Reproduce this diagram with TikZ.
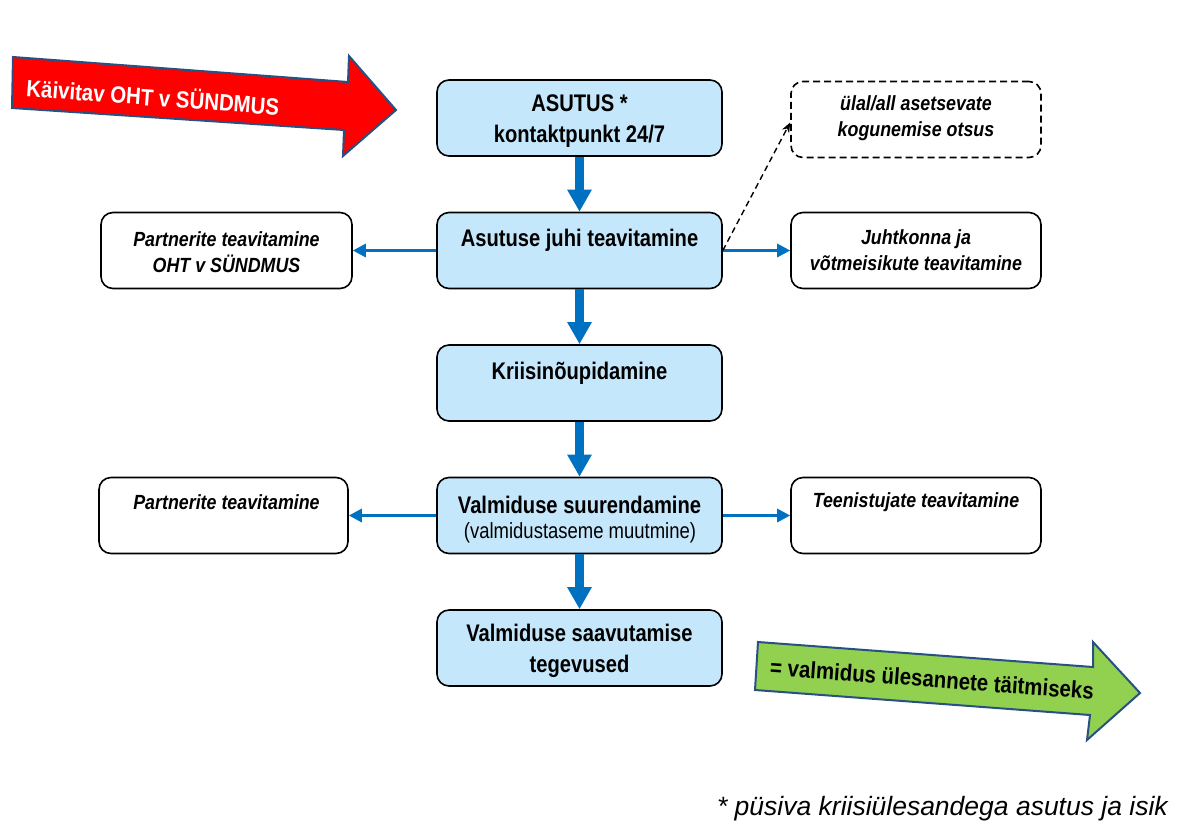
\documentclass[tikz,border=0pt]{standalone}
\usepackage{fontspec}
\setmainfont{Liberation Sans}
\newfontfamily\nar[FakeStretch=0.84]{Liberation Sans}
\newfontfamily\narb[FakeStretch=0.87]{Liberation Sans}
\usetikzlibrary{arrows.meta}
\definecolor{boxblue}{RGB}{197,231,251}
\definecolor{arrblue}{RGB}{0,112,192}
\definecolor{outl}{RGB}{40,80,130}
\definecolor{grn}{RGB}{146,208,80}
\begin{document}
\begin{tikzpicture}[x=1pt,y=-1pt,
  mainbox/.style={draw=black, line width=1.6pt, rounded corners=12pt, fill=boxblue, minimum width=285pt, minimum height=76pt, inner sep=0pt},
  sidebox/.style={draw=black, line width=1.6pt, rounded corners=12pt, fill=white, minimum width=250pt, minimum height=76pt, inner sep=0pt},
  maintext/.style={font=\nar\bfseries\fontsize{24}{31}\selectfont, align=center, inner sep=0pt},
  sidetext/.style={font=\narb\bfseries\itshape\fontsize{20.5}{26}\selectfont, align=center, inner sep=0pt},
  arrowtext/.style={font=\narb\bfseries\fontsize{23.5}{26}\selectfont, rotate=-4.3, inner sep=0pt},
  vthick/.style={arrblue, line width=8.5pt, -{Triangle[width=23pt,length=22pt]}},
  hthin/.style={arrblue, line width=3pt, -{Triangle[width=13pt,length=13pt]}},
  bigarrow/.style={draw=outl, line width=2pt, line join=miter},
]
\useasboundingbox (0,0) rectangle (1177,823);

% big arrows
\draw[bigarrow, fill=red] (13,57) -- (348,82) -- (349,56) -- (396,110) -- (343,156) -- (344,130) -- (12,108) -- cycle;
\node[arrowtext, text=white] (redtxt) at (153,96) {Käivitav OHT v SÜNDMUS};

\draw[bigarrow, fill=grn] (758,642) -- (1093,667) -- (1093,642) -- (1140,693) -- (1087,740) -- (1090,715) -- (755,690) -- cycle;
\node[arrowtext, text=black] (grntxt) at (932,679) {= valmidus ülesannete täitmiseks};

% main boxes
\node[mainbox] (b1) at (579.5,118) {};
\node[maintext] (t1) at (579.5,121) {ASUTUS *\\kontaktpunkt 24/7};
\node[mainbox] (b2) at (579.5,250.5) {};
\node[maintext] (t2) at (579.5,240) {Asutuse juhi teavitamine};
\node[mainbox] (b3) at (579.5,383) {};
\node[maintext] (t3) at (579.5,373) {Kriisinõupidamine};
\node[mainbox] (b4) at (579.5,515.5) {};
\node[maintext] (t4) at (579.5,505) {Valmiduse suurendamine};
\node[font=\nar\fontsize{22}{24}\selectfont, inner sep=0pt] (t4b) at (580,533) {(valmidustaseme muutmine)};
\node[mainbox] (b5) at (579.5,648) {};
\node[maintext] (t5) at (579.5,651) {Valmiduse saavutamise\\tegevused};

% side boxes
\node[sidebox, minimum width=251pt] (s1) at (226.5,250.5) {};
\node[sidetext] (u1) at (226.5,252) {Partnerite teavitamine\\OHT v SÜNDMUS};
\node[sidebox] (s2) at (916,250.5) {};
\node[sidetext] (u2) at (916,250) {Juhtkonna ja\\võtmeisikute teavitamine};
\node[sidebox, dash pattern=on 7pt off 4pt] (s3) at (916,119.5) {};
\node[sidetext] (u3) at (916,118) {ülal/all asetsevate\\kogunemise otsus};
\node[sidebox, minimum width=249pt] (s4) at (223.5,515.5) {};
\node[sidetext] (u4) at (226.5,502) {Partnerite teavitamine};
\node[sidebox] (s5) at (916,515.5) {};
\node[sidetext] (u5) at (916,502) {Teenistujate teavitamine};

% footnote
\node[font=\itshape\fontsize{26.5}{30}\selectfont, inner sep=0pt, anchor=base east] (fn) at (1168,815) {* püsiva kriisiülesandega asutus ja isik};

% connectors
\draw[vthick] (b1.south) -- (b2.north);
\draw[vthick] (b2.south) -- (b3.north);
\draw[vthick] (b3.south) -- (b4.north);
\draw[vthick] (b4.south) -- (b5.north);
\draw[hthin] (b2.west) -- (s1.east);
\draw[hthin] (b2.east) -- (s2.west);
\draw[hthin] (b4.west) -- (s4.east);
\draw[hthin] (b4.east) -- (s5.west);
\draw[black, line width=1.4pt, dash pattern=on 6pt off 4pt, -{Stealth[length=10pt,width=8pt]}] (b2.east) -- ([yshift=-3pt]s3.west);
\end{tikzpicture}
\end{document}
